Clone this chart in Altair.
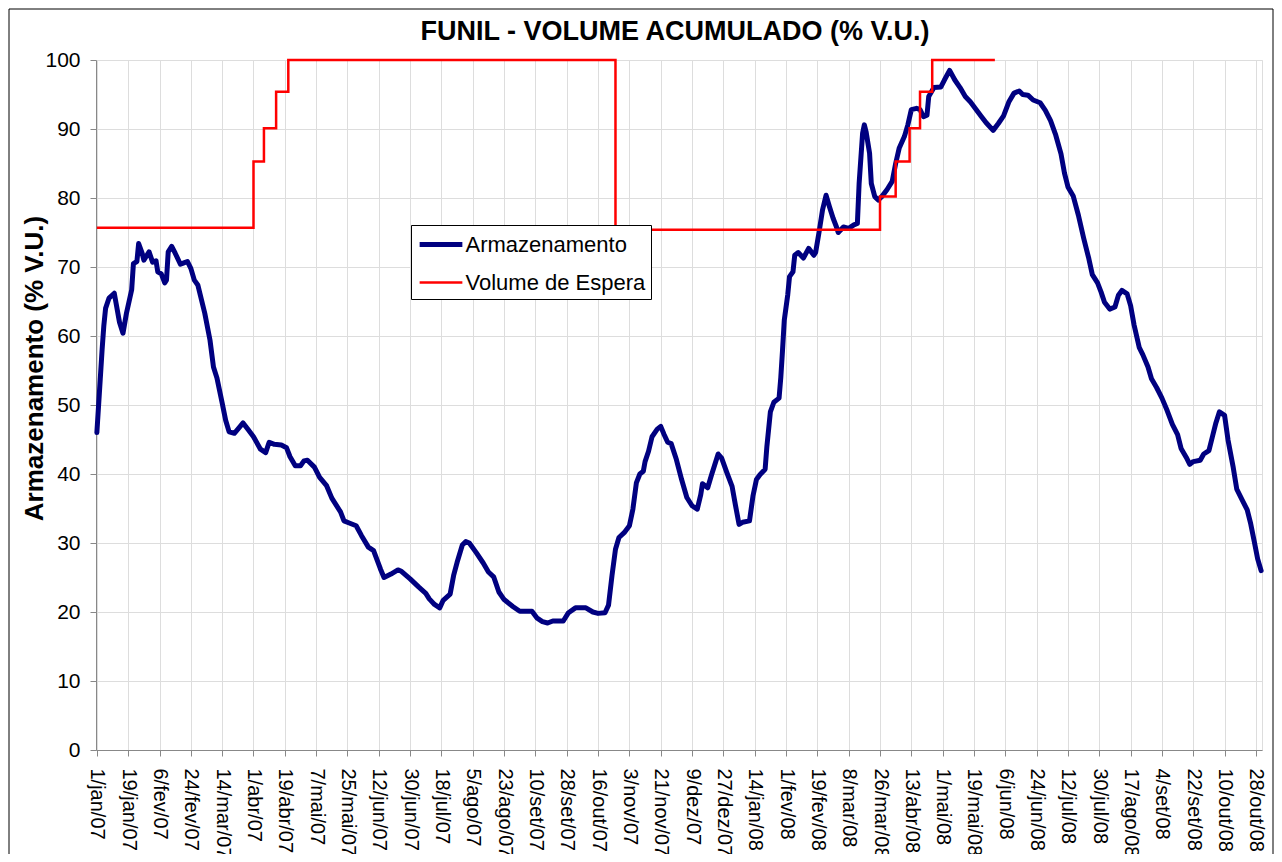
import altair as alt
import pandas as pd

START = pd.Timestamp("2007-01-01")

# Armazenamento (% V.U.) - days since 1/jan/07
arm_days = [0, 1, 3, 4, 5, 7, 10, 11, 13, 15, 17, 20, 21, 23, 24, 26, 27, 30, 32, 34,
            35, 37, 39, 40, 41, 43, 45, 48, 50, 52, 54, 56, 58, 62, 65, 67, 69, 72, 74, 76,
            79, 82, 84, 87, 90, 94, 97, 99, 102, 106, 109, 111, 114, 117, 119, 121, 125, 128, 132, 135,
            140, 142, 145, 149, 152, 156, 159, 163, 165, 169, 173, 175, 180, 185, 189, 191, 194, 197, 199, 203,
            205, 207, 210, 212, 214, 218, 222, 225, 228, 231, 234, 239, 243, 250, 253, 256, 259, 262, 268, 271,
            275, 281, 285, 288, 292, 294, 296, 298, 300, 303, 306, 308, 310, 312, 314, 315, 317, 319, 322, 324,
            326, 328, 330, 333, 336, 339, 342, 345, 347, 348, 351, 353, 357, 359, 362, 365, 367, 369, 371, 375,
            377, 379, 381, 384, 385, 387, 389, 392, 393, 394, 395, 397, 398, 400, 401, 403, 406, 409, 412, 413,
            415, 417, 419, 421, 423, 425, 426, 429, 432, 435, 437, 438, 440, 441, 442, 444, 445, 447, 449, 451,
            454, 457, 459, 461, 464, 466, 468, 471, 473, 475, 477, 478, 481, 485, 487, 490, 493, 496, 499, 502,
            505, 508, 511, 515, 518, 521, 524, 527, 530, 532, 535, 538, 542, 545, 548, 551, 554, 556, 558, 561,
            564, 567, 570, 572, 575, 577, 579, 582, 585, 587, 589, 592, 594, 596, 599, 601, 604, 606, 609, 612,
            615, 618, 621, 623, 626, 628, 630, 634, 636, 639, 641, 643, 645, 648, 650, 653, 655, 658, 661, 663,
            665, 667, 669]
arm_vals = [46, 50, 58, 61.5, 64, 65.5, 66.2, 64.8, 62, 60.4, 63.3, 66.7, 70.5, 70.8, 73.4, 72, 71, 72.2, 70.7, 70.9,
            69.3, 69, 67.7, 68.1, 72.2, 73, 72, 70.4, 70.6, 70.8, 69.8, 68.1, 67.4, 63.3, 59.4, 55.5, 53.9, 50.3, 47.8, 46.1,
            45.9, 46.8, 47.4, 46.4, 45.4, 43.6, 43.1, 44.6, 44.3, 44.2, 43.8, 42.5, 41.2, 41.2, 41.9, 42, 41, 39.5, 38.3, 36.5,
            34.5, 33.2, 32.9, 32.5, 31.1, 29.4, 28.9, 26.2, 25, 25.5, 26.1, 25.9, 24.8, 23.6, 22.7, 21.9, 21.1, 20.6, 21.7, 22.6,
            25.3, 27.2, 29.7, 30.2, 30, 28.6, 27.1, 25.8, 25.1, 22.9, 21.8, 20.8, 20.1, 20.1, 19.1, 18.6, 18.4, 18.7, 18.7, 19.9,
            20.6, 20.6, 20, 19.8, 19.9, 21, 25.3, 29.1, 30.8, 31.5, 32.5, 34.9, 38.7, 40, 40.4, 41.8, 43.3, 45.4, 46.5, 46.9,
            45.7, 44.6, 44.4, 42.1, 39.2, 36.6, 35.4, 34.9, 37, 38.6, 38, 39.7, 42.9, 42.3, 40.2, 38.2, 35.4, 32.7, 33, 33.2,
            36.8, 39.2, 39.9, 40.7, 44, 49, 50.4, 51, 54, 58, 62.3, 66, 68.6, 69.3, 71.7, 72.1, 71.3, 72.7, 71.7, 72.1,
            75.1, 78.3, 80.4, 78.7, 77.1, 75.8, 75, 75.8, 75.6, 76.1, 76.3, 82.1, 89.4, 90.6, 89.6, 86.5, 82.1, 80.2, 79.7, 80.2,
            81.2, 82.4, 85, 87.2, 88.9, 90.6, 92.8, 93, 92.8, 91.8, 92, 94.7, 96, 96.1, 97.1, 98.5, 97.1, 96, 94.7, 93.9,
            92.9, 91.9, 90.9, 89.8, 90.8, 91.9, 93.9, 95.2, 95.5, 95, 94.9, 94.2, 93.8, 92.7, 91.2, 89.1, 86.4, 83.6, 81.6, 80.3,
            77.5, 74.2, 71.2, 68.9, 67.7, 66.4, 64.9, 63.9, 64.2, 65.9, 66.6, 66.1, 64.4, 61.6, 58.3, 57.3, 55.5, 53.8, 52.5, 51,
            49.2, 47.2, 45.7, 43.7, 42.4, 41.4, 41.8, 42, 42.9, 43.4, 45.4, 47.4, 49, 48.5, 44.9, 40.9, 37.8, 36.3, 34.8, 32.8,
            30.3, 27.7, 26]

# Volume de Espera (% V.U.) - step changes, days since 1/jan/07
esp_days = [0, 90, 96, 103, 110, 298, 450, 459, 467, 473, 480, 516]
esp_vals = [75.7, 85.3, 90.1, 95.4, 100, 75.4, 80.2, 85.3, 90.1, 95.4, 100, 100]

series_names = ["Armazenamento", "Volume de Espera"]
series_colors = ["#000080", "#FF0000"]

tick_labels = ["1/jan/07", "19/jan/07", "6/fev/07", "24/fev/07", "14/mar/07", "1/abr/07", "19/abr/07",
               "7/mai/07", "25/mai/07", "12/jun/07", "30/jun/07", "18/jul/07", "5/ago/07", "23/ago/07",
               "10/set/07", "28/set/07", "16/out/07", "3/nov/07", "21/nov/07", "9/dez/07", "27/dez/07",
               "14/jan/08", "1/fev/08", "19/fev/08", "8/mar/08", "26/mar/08", "13/abr/08", "1/mai/08",
               "19/mai/08", "6/jun/08", "24/jun/08", "12/jul/08", "30/jul/08", "17/ago/08", "4/set/08",
               "22/set/08", "10/out/08", "28/out/08"]
month_abbr = ["jan", "fev", "mar", "abr", "mai", "jun", "jul", "ago", "set", "out", "nov", "dez"]
y_ticks = list(range(0, 101, 10))


def ms(ts):
    return int(pd.Timestamp(ts).value // 10**6)


def label_ms(lbl):
    d, m, y = lbl.split("/")
    return ms(pd.Timestamp(year=2000 + int(y), month=month_abbr.index(m) + 1, day=int(d)))


def day_ms(d):
    return ms(START + pd.Timedelta(days=d))


arm_df = pd.DataFrame({"t": [day_ms(d) for d in arm_days], "v": arm_vals, "serie": series_names[0]})
esp_df = pd.DataFrame({"t": [day_ms(d) for d in esp_days], "v": esp_vals, "serie": series_names[1]})

tick_values = [label_ms(l) for l in tick_labels]
x_domain = [ms(START) - 12 * 3600 * 1000, ms(pd.Timestamp("2008-10-31")) + 12 * 3600 * 1000]

months_js = "[" + ",".join("'%s'" % m for m in month_abbr) + "]"
label_expr = ("utcdate(datum.value) + '/' + " + months_js +
              "[utcmonth(datum.value)] + '/' + substring(toString(utcyear(datum.value)), 2)")

FONT = "Liberation Sans"
W, H = 1166, 690

x_enc = alt.X("t:T",
              scale=alt.Scale(type="utc", domain=x_domain, nice=False),
              axis=alt.Axis(values=tick_values, labelExpr=label_expr, labelAngle=90,
                            labelAlign="left", labelBaseline="middle", labelPadding=12,
                            labelOverlap=False, labelFlush=False, title=None, tickSize=6,
                            labelFontSize=20))
y_enc = alt.Y("v:Q",
              scale=alt.Scale(domain=[0, 100], nice=False),
              axis=alt.Axis(values=y_ticks, title="Armazenamento (% V.U.)", titleFontSize=26,
                            titleFontWeight="bold", titleX=-62, titleY=308, titleAngle=-90,
                            titleAlign="center", titleBaseline="middle", labelPadding=10,
                            tickSize=6, labelFontSize=21))

legend_opts = dict(title=None, orient="none", legendX=315, legendY=165,
                   symbolType="M-1.78,0L1.78,0", symbolSize=576, symbolOffset=10.5,
                   labelFontSize=22, labelFont=FONT, labelColor="black", fillColor="white",
                   labelLimit=400, strokeColor="black", padding=5, rowPadding=13,
                   labelOffset=10, cornerRadius=0)
color_enc = alt.Color("serie:N",
                      scale=alt.Scale(domain=series_names, range=series_colors),
                      legend=alt.Legend(**legend_opts))
sw_enc = alt.StrokeWidth("serie:N",
                         scale=alt.Scale(domain=series_names, range=[5, 2.5]),
                         legend=alt.Legend(**legend_opts))

arm_line = alt.Chart(arm_df).mark_line(interpolate="linear", strokeJoin="round",
                                       strokeCap="round").encode(
    x=x_enc, y=y_enc, color=color_enc, strokeWidth=sw_enc)
esp_line = alt.Chart(esp_df).mark_line(interpolate="step-after").encode(
    x=x_enc, y=y_enc, color=color_enc, strokeWidth=sw_enc)

# thin outer border of the chart area
frame = alt.Chart(alt.Data(values=[{"a": 1}])).mark_rect(
    fill="white", fillOpacity=0, stroke="black", strokeWidth=1).encode(
    x=alt.value(-87), x2=alt.value(1177), y=alt.value(-51), y2=alt.value(900))

chart = alt.layer(frame, arm_line, esp_line).properties(
    width=W, height=H,
    title=alt.TitleParams("FUNIL - VOLUME ACUMULADO (% V.U.)", font=FONT, fontSize=27,
                          fontWeight="bold", color="black", anchor="middle", frame="group",
                          offset=-37, dx=-4),
    autosize=alt.AutoSizeParams(type="none"),
    padding={"left": 88, "top": 52, "right": 12, "bottom": 104},
).configure_axis(
    labelFont=FONT, titleFont=FONT, labelColor="black", titleColor="black",
    domainColor="black", tickColor="black", gridColor="#C0C0C0", gridWidth=1,
).configure_view(
    stroke="#808080", strokeWidth=1
).configure(background="white")

chart.save("out.html", embed_options={"renderer": "svg", "actions": False})
